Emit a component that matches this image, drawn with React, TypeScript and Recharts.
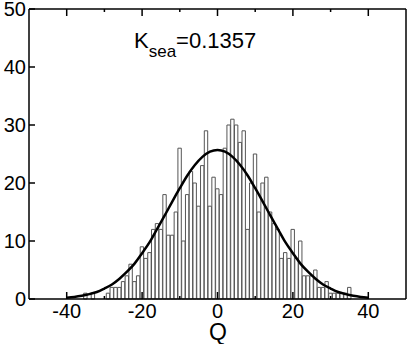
import React from "react";
import { ComposedChart, Bar, Line, XAxis, YAxis, Customized } from "recharts";

// histogram bins (bin centre Q, count)
const binCenters = [
  -35, -34, -33, -32, -31, -30, -29, -28, -27, -26, -25, -24, -23, -22, -21, -20, -19, -18, -17, -16, -15, -14, -13,
  -12, -11, -10, -9, -8, -7, -6, -5, -4, -3, -2, -1, 0, 1, 2, 3, 4, 5, 6, 7, 8, 9, 10, 11, 12, 13, 14, 15, 16, 17, 18,
  19, 20, 21, 22, 23, 24, 25, 26, 27, 28, 29, 30, 31, 32, 33, 34, 35,
];
const binCounts = [
  1, 0, 1, 0, 0, 0, 1, 2, 2, 2, 3, 4, 6, 3, 4, 9, 7, 8, 12, 13, 12, 18, 11, 11, 15, 26, 10, 18, 22, 20, 16, 23, 29, 16,
  21, 19, 18, 26, 30, 31, 30, 27, 29, 12, 20, 25, 15, 20, 21, 15, 13, 12, 7, 8, 7, 12, 7, 10, 4, 4, 4, 5, 2, 2, 3, 1,
  1, 1, 1, 1, 2,
];

// gaussian fit
const fitQ = [
  -40, -38, -36, -34, -32, -30, -28, -26, -24, -22, -20, -18, -16, -14, -12, -10, -8, -6, -4, -2, 0, 2, 4, 6, 8, 10, 12,
  14, 16, 18, 20, 22, 24, 26, 28, 30, 32, 34, 36, 38, 40,
];
const fitVals = [
  0.23, 0.36, 0.56, 0.84, 1.2, 1.8, 2.5, 3.5, 4.7, 6.1, 7.9, 9.8, 12.1, 14.4, 16.8, 19.1, 21.3, 23.1, 24.5, 25.4, 25.7,
  25.4, 24.5, 23.1, 21.3, 19.1, 16.8, 14.4, 12.1, 9.8, 7.9, 6.1, 4.7, 3.5, 2.5, 1.8, 1.2, 0.84, 0.56, 0.36, 0.23,
];

const xTicks = [-40, -30, -20, -10, 0, 10, 20, 30, 40];
const xLabels = [-40, -20, 0, 20, 40];
const yTicks = [0, 10, 20, 30, 40, 50];

const histData = binCenters.map((q, i) => ({ q, count: binCounts[i] }));
const fitData = fitQ.map((q, i) => ({ q, y: fitVals[i] }));

const FONT = "'Liberation Sans', Arial, Helvetica, sans-serif";

const BottomTick = (props: any) => {
  const { x, y, payload } = props;
  const major = xLabels.includes(payload.value);
  return (
    <g>
      <line x1={x} x2={x} y1={y} y2={y - (major ? 7 : 3)} stroke="#000" strokeWidth={1.5} />
      {major && (
        <text x={x} y={y + 19} textAnchor="middle" fontSize={20} fontFamily={FONT} fill="#000">
          {payload.value}
        </text>
      )}
    </g>
  );
};

const TopTick = (props: any) => {
  const { x, y, payload } = props;
  const major = xLabels.includes(payload.value);
  return <line x1={x} x2={x} y1={y} y2={y + (major ? 7 : 3)} stroke="#000" strokeWidth={1.5} />;
};

const LeftTick = (props: any) => {
  const { x, y, payload } = props;
  return (
    <g>
      <line x1={x} x2={x + 6} y1={y} y2={y} stroke="#000" strokeWidth={1.5} />
      <text x={x - 3} y={y + 7} textAnchor="end" fontSize={20} fontFamily={FONT} fill="#000">
        {payload.value}
      </text>
    </g>
  );
};

const RightTick = (props: any) => {
  const { x, y } = props;
  return <line x1={x} x2={x - 6} y1={y} y2={y} stroke="#000" strokeWidth={1.5} />;
};

const Annotation = () => (
  <g>
    <text x={134} y={48} fontSize={22} fontFamily={FONT} fill="#000">
      K
      <tspan fontSize={17} dy={9}>
        sea
      </tspan>
      <tspan dy={-9}>=0.1357</tspan>
    </text>
    <text x={218} y={340} textAnchor="middle" fontSize={23} fontFamily={FONT} fill="#000">
      Q
    </text>
  </g>
);

const axisLine = { stroke: "#000", strokeWidth: 1.5 };

export default function App() {
  return (
    <div style={{ position: "absolute", left: 0, top: 0, width: 409, height: 344, background: "#fff" }}>
      <ComposedChart width={409} height={344} data={histData} margin={{ top: 8, right: 2, bottom: 0, left: 0 }}>
        <XAxis
          xAxisId="b"
          type="number"
          dataKey="q"
          domain={[-50, 50]}
          ticks={xTicks}
          interval={0}
          height={45}
          tickSize={0}
          tickMargin={0}
          tickLine={false}
          axisLine={axisLine}
          tick={(p: any) => <BottomTick {...p} />}
        />
        <XAxis
          xAxisId="t"
          orientation="top"
          type="number"
          dataKey="q"
          domain={[-50, 50]}
          ticks={xTicks}
          interval={0}
          height={1}
          tickSize={0}
          tickMargin={0}
          tickLine={false}
          axisLine={axisLine}
          tick={(p: any) => <TopTick {...p} />}
        />
        <YAxis
          yAxisId="l"
          type="number"
          domain={[0, 50]}
          ticks={yTicks}
          interval={0}
          width={29}
          tickSize={0}
          tickMargin={0}
          tickLine={false}
          axisLine={axisLine}
          tick={(p: any) => <LeftTick {...p} />}
        />
        <YAxis
          yAxisId="r"
          orientation="right"
          type="number"
          domain={[0, 50]}
          ticks={yTicks}
          interval={0}
          width={1}
          tickSize={0}
          tickMargin={0}
          tickLine={false}
          axisLine={axisLine}
          tick={(p: any) => <RightTick {...p} />}
        />
        <Bar
          xAxisId="b"
          yAxisId="l"
          dataKey="count"
          barSize={3.775}
          fill="#fff"
          stroke="#555"
          strokeWidth={1}
          isAnimationActive={false}
        />
        <Line
          xAxisId="b"
          yAxisId="l"
          data={fitData}
          dataKey="y"
          type="monotone"
          stroke="#000"
          strokeWidth={2.5}
          dot={false}
          activeDot={false}
          isAnimationActive={false}
        />
        <Customized component={<Annotation />} />
      </ComposedChart>
    </div>
  );
}
